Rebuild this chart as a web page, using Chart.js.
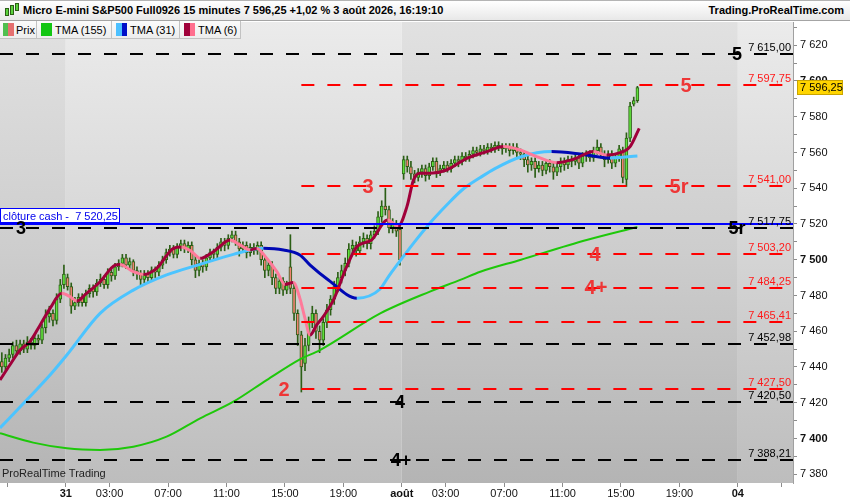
<!DOCTYPE html>
<html>
<head>
<meta charset="utf-8">
<script src="https://cdn.jsdelivr.net/npm/chart.js@4.4.1/dist/chart.umd.min.js"></script>
<style>
body { margin: 0; background: #fff; font-family: "Liberation Sans", Arial, sans-serif; }
#cadre { position: relative; width: 850px; height: 500px; overflow: hidden; }
#graphique { position: absolute; left: 0; top: 0; }
#titre { position: absolute; left: 0; top: 0; width: 850px; height: 21px; box-sizing: border-box;
  border-top: 1px solid #b4b4b4; border-bottom: 1px solid #a4a4a4;
  background: linear-gradient(#ffffff, #e8e8e8); font-size: 11px; font-weight: bold; line-height: 19px; color: #000; }
#titre .gauche { position: absolute; left: 23px; top: 0; }
#titre .droite { position: absolute; right: 6px; top: 0; }
.icone { position: absolute; width: 2px; border: 1px solid #2c5f16; background: #5ad23c; }
#legende { position: absolute; left: 0; top: 21px; height: 19px; }
.onglet { float: left; height: 18px; box-sizing: border-box; border-right: 1px solid #c2c2c2; border-bottom: 1px solid #c2c2c2;
  background: linear-gradient(#fbfbfb, #ededed); font-size: 11px; line-height: 18px; position: relative; }
.carre { position: absolute; top: 2px; width: 11px; height: 13px; }
</style>
</head>
<body>
<div id="cadre">
  <canvas id="graphique" width="850" height="500"></canvas>
  <div id="titre">
    <div class="icone" style="left:5px;top:7px;height:6px"></div>
    <div class="icone" style="left:10px;top:4px;height:8px"></div>
    <div class="icone" style="left:15px;top:2px;height:6px"></div>
    <span class="gauche">Micro E-mini S&amp;P500 Full0926 15 minutes 7 596,25 +1,02 % 3 août 2026, 16:19:10</span>
    <span class="droite">Trading.ProRealTime.com</span>
  </div>
  <div id="legende">
    <div class="onglet" style="width:37px"><div class="carre" style="left:3px;background:linear-gradient(90deg,#4fbf4f 50%,#e57070 50%)"></div><span style="position:absolute;left:16px">Prix</span></div>
    <div class="onglet" style="width:75px"><div class="carre" style="left:4px;background:#13c613"></div><span style="position:absolute;left:18px">TMA (155)</span></div>
    <div class="onglet" style="width:68px"><div class="carre" style="left:4px;background:linear-gradient(90deg,#4cc0ff 50%,#0010c8 50%)"></div><span style="position:absolute;left:18px">TMA (31)</span></div>
    <div class="onglet" style="width:61px"><div class="carre" style="left:4px;background:linear-gradient(90deg,#a0003a 50%,#ff6f8f 50%)"></div><span style="position:absolute;left:18px">TMA (6)</span></div>
  </div>
</div>
<script>
'use strict';

/* global Chart */

// Bougies 15 minutes (index de barre 0..174)
const ouvertures = [7443,7440,7445,7447,7452,7449,7453,7450,7454,7452,7456,7455,7462,7468,7470,7466,7478,7486,7490,7485,
  7474,7476,7479,7476,7481,7484,7482,7487,7489,7486,7493,7491,7496,7498,7501,7497,7499,7494,7492,7489,
  7492,7490,7494,7493,7497,7500,7504,7506,7503,7507,7509,7506,7508,7500,7494,7498,7496,7501,7504,7503,
  7507,7510,7508,7512,7514,7510,7506,7508,7504,7507,7505,7508,7500,7494,7497,7490,7484,7488,7483,7496,
  7484,7470,7458,7442,7452,7465,7470,7460,7455,7465,7472,7478,7485,7490,7494,7498,7506,7508,7505,7510,
  7512,7509,7514,7516,7524,7530,7528,7518,7520,7517,7548,7556,7552,7548,7546,7549,7551,7547,7552,7555,
  7549,7551,7553,7551,7554,7556,7555,7558,7557,7559,7561,7560,7562,7561,7563,7562,7564,7563,7562,7563,
  7561,7563,7560,7559,7556,7553,7555,7551,7553,7550,7554,7552,7549,7552,7555,7553,7556,7555,7557,7554,
  7558,7559,7557,7561,7563,7559,7556,7559,7554,7557,7561,7545,7568,7587,7589];
const hauts = [7448,7447,7450,7454,7455,7455,7455,7457,7456,7458,7458,7464,7472,7474,7472,7481,7489,7497,7492,7487,
  7479,7481,7481,7483,7486,7486,7489,7492,7491,7495,7495,7498,7500,7503,7503,7501,7500,7496,7494,7494,
  7494,7496,7496,7499,7502,7506,7508,7508,7509,7511,7511,7510,7510,7502,7500,7500,7503,7506,7506,7509,
  7512,7512,7514,7516,7516,7512,7510,7510,7509,7509,7510,7510,7502,7499,7499,7492,7490,7490,7488,7514,
  7487,7472,7460,7456,7468,7474,7472,7463,7467,7475,7480,7488,7493,7497,7501,7509,7511,7510,7513,7515,
  7514,7516,7519,7527,7533,7540,7530,7523,7522,7519,7558,7558,7555,7550,7551,7553,7553,7554,7557,7557,
  7553,7555,7555,7556,7558,7558,7560,7560,7561,7563,7563,7564,7564,7565,7565,7566,7566,7565,7565,7565,
  7565,7565,7562,7561,7558,7557,7557,7555,7555,7556,7556,7554,7554,7557,7557,7558,7558,7559,7559,7560,
  7561,7561,7563,7567,7565,7561,7561,7561,7559,7564,7563,7571,7588,7591,7597];
const bas = [7437,7438,7443,7445,7447,7447,7448,7448,7450,7450,7453,7453,7459,7465,7463,7464,7476,7484,7483,7470,
  7472,7474,7474,7474,7479,7479,7480,7485,7484,7484,7488,7489,7494,7496,7495,7495,7491,7489,7486,7487,
  7487,7488,7490,7491,7495,7498,7502,7501,7501,7505,7504,7504,7497,7490,7491,7493,7494,7499,7500,7501,
  7505,7505,7506,7510,7508,7502,7504,7501,7502,7503,7503,7497,7490,7491,7486,7481,7481,7480,7481,7481,
  7466,7452,7426,7438,7449,7462,7456,7448,7452,7462,7469,7475,7482,7487,7491,7496,7503,7502,7503,7507,
  7506,7506,7512,7514,7521,7525,7515,7515,7513,7497,7545,7549,7545,7543,7544,7546,7544,7545,7550,7546,
  7547,7549,7549,7549,7552,7552,7553,7555,7555,7557,7558,7558,7559,7559,7560,7560,7561,7559,7560,7558,
  7559,7557,7556,7552,7549,7550,7546,7549,7547,7548,7549,7545,7547,7549,7550,7551,7552,7553,7551,7552,
  7555,7555,7555,7559,7557,7552,7554,7551,7552,7555,7543,7541,7566,7586,7588];
const clotures = [7440,7445,7447,7452,7449,7453,7450,7454,7452,7456,7455,7462,7468,7470,7466,7478,7486,7492,7485,7474,
  7476,7479,7476,7481,7484,7482,7487,7489,7486,7493,7491,7496,7498,7501,7497,7499,7494,7492,7489,7492,
  7490,7494,7493,7497,7500,7504,7506,7503,7507,7509,7506,7508,7500,7494,7498,7496,7501,7504,7503,7507,
  7510,7508,7512,7514,7510,7506,7508,7504,7507,7505,7508,7500,7494,7497,7490,7484,7488,7483,7486,7484,
  7470,7458,7440,7452,7465,7470,7460,7455,7465,7472,7478,7485,7490,7494,7498,7506,7508,7505,7510,7512,
  7509,7514,7516,7524,7530,7528,7518,7520,7516,7500,7556,7552,7548,7546,7549,7551,7547,7552,7555,7549,
  7551,7553,7551,7554,7556,7555,7558,7557,7559,7561,7560,7562,7561,7563,7562,7564,7563,7562,7563,7561,
  7563,7560,7559,7556,7553,7555,7551,7553,7550,7554,7552,7549,7552,7555,7553,7556,7555,7557,7554,7558,
  7559,7557,7561,7563,7559,7556,7559,7554,7557,7562,7546,7568,7586,7589,7596.25];

// Moyennes mobiles triangulaires
const tma155Barres = [-0.5, 8.6, 17.8, 26.9, 36, 45.1, 54.3, 63.4, 72.5, 81.6, 87.1, 103.6, 117.2, 125.5, 131, 141.9, 160.1, 174];
const tma155Valeurs = [7402.9, 7397.7, 7394.5, 7393.6, 7395.4, 7401, 7411.3, 7420.6, 7432.7, 7444.3, 7449.5, 7470, 7482.2, 7488.7, 7493.3, 7499.9, 7511, 7518.3];
const tma31Barres = [-0.5, 6.8, 13.2, 17.8, 26.9, 36, 45.1, 54.3, 63.4, 71.6, 77.1, 81.6, 84.4, 89.4, 97.2, 103.5, 106, 110, 113, 117, 122, 126, 131, 135, 142, 150.5, 158.3, 166.5, 174];
const tma31Valeurs = [7405.9, 7421.5, 7435.5, 7446.7, 7470, 7483, 7491.5, 7497.4, 7503, 7506.4, 7505.5, 7502.7, 7497, 7488.7, 7478.5, 7483.5, 7491, 7502, 7510, 7520, 7531, 7539, 7546, 7551, 7557.5, 7560.5, 7559.2, 7556.9, 7558];
const tma6Barres = [-0.5, 2.2, 5, 7.7, 10.5, 13.2, 16.4, 18.7, 20.5, 23.2, 26.9, 31, 32.4, 36, 38.8, 42.4, 47, 49.2, 52, 54.3,
  57.9, 62.5, 65.2, 68, 69.8, 72.5, 75.3, 77.5, 79.8, 81.6, 83, 84.4, 86.2, 88, 90.8, 94.4, 97.2, 101.2, 105.6, 108.5,
  110.9, 112.7, 114.5, 117.2, 121.8, 127.3, 132.8, 137.3, 141.9, 146.4, 151.9, 156.5, 162, 165.6, 169.3, 172, 174.5];
const tma6Valeurs = [7432.7, 7441.1, 7449.5, 7454.2, 7463.5, 7472.8, 7481.2, 7479.3, 7476.9, 7481.2, 7487.7, 7497, 7497.4, 7493.3, 7491.8, 7495.2, 7506.4, 7507.1, 7504.5, 7500.8,
  7504.5, 7511, 7508.3, 7505.5, 7506.3, 7500.8, 7493.3, 7486.2, 7487.2, 7478.4, 7467.2, 7457.9, 7463.5, 7468.2, 7477.5, 7496.1, 7507.3, 7511, 7522.2, 7518.8,
  7529.7, 7544.6, 7548.4, 7548.4, 7550.2, 7556.7, 7560.5, 7563.3, 7561.4, 7557.7, 7554.3, 7556.2, 7560.5, 7558.6, 7559.9, 7563.3, 7573.5];

// Niveaux horizontaux
const niveauxNoirs = [7615.00, 7517.75, 7452.98, 7420.50, 7388.21];
const niveauxRouges = [7597.75, 7541.00, 7503.20, 7484.25, 7465.41, 7427.50];
const debutNiveauxRouges = 82;
const clotureCash = 7520.25;
const dernierPrix = 7596.25;
const reperesTextes = ['5', '3', '5r', '4', '4+', '5', '3', '5r', '4', '4+', '2'];
const reperesNiveaux = [7615.00, 7517.75, 7517.75, 7420.50, 7388.21, 7597.75, 7541.00, 7541.00, 7503.20, 7484.25, 7427.50];

// Axes
const xTickBarres = [1.5, 17.5, 29.5, 45.5, 61.5, 77.5, 93.5, 109.5, 121.5, 137.5, 153.5, 169.5, 185.5, 201.5, 213.5];
const xTickLabels = ['', '31', '03:00', '07:00', '11:00', '15:00', '19:00', 'août', '03:00', '07:00', '11:00', '15:00', '19:00', '04', ''];
const yGraduations = [7380, 7390, 7400, 7410, 7420, 7430, 7440, 7450, 7460, 7470, 7480, 7490, 7500, 7510, 7520, 7530,
  7540, 7550, 7560, 7570, 7580, 7590, 7600, 7610, 7620, 7630];

const POLICE = '"Liberation Sans", Arial, sans-serif';

function formatFr(v, dec) {
    const morceaux = v.toFixed(dec).split('.');
    const ent = morceaux[0].replace(/\B(?=(\d{3})+(?!\d))/g, ' ');
    return morceaux.length > 1 ? ent + ',' + morceaux[1] : ent;
}

function points(barres, valeurs) {
    return barres.map((b, i) => ({ x: b, y: valeurs[i] }));
}

const corps = clotures.map((c, i) => ({ x: i, y: [ouvertures[i], c] }));
const meches = clotures.map((c, i) => ({ x: i, y: [bas[i], hauts[i]] }));

// Fond en bandes (une par séance) avec dégradé vertical
const pluginFond = {
    id: 'fond',
    beforeDraw(chart) {
        const c = chart.ctx, a = chart.chartArea, sx = chart.scales.x;
        const bornes = [a.left];
        xTickBarres.forEach((b, i) => {
            if (xTickLabels[i] !== '' && xTickLabels[i].indexOf(':') < 0) {
                bornes.push(sx.getPixelForValue(b));
            }
        });
        bornes.push(a.right);
        for (let i = 0; i < bornes.length - 1; i++) {
            const g = c.createLinearGradient(0, a.top, 0, a.bottom);
            if (i % 2 === 0) {
                g.addColorStop(0, '#e1e1e1');
                g.addColorStop(0.5, '#cdcdcd');
                g.addColorStop(1, '#b4b4b4');
            } else {
                g.addColorStop(0, '#ebebeb');
                g.addColorStop(0.5, '#d5d5d5');
                g.addColorStop(1, '#bdbdbd');
            }
            c.fillStyle = g;
            c.fillRect(bornes[i], a.top, bornes[i + 1] - bornes[i], a.bottom - a.top);
        }
    }
};

// Niveaux, étiquettes et prix courant
const pluginNiveaux = {
    id: 'niveaux',
    afterDraw(chart) {
        const c = chart.ctx, a = chart.chartArea, sx = chart.scales.x, sy = chart.scales.y;
        const reperesX = [737, 21, 737, 400, 401, 686, 368, 679, 595, 596, 284];
        c.save();
        c.beginPath();
        c.rect(a.left, a.top, a.right - a.left, a.bottom - a.top);
        c.clip();

        c.lineWidth = 2;
        c.setLineDash([13, 13]);
        c.strokeStyle = '#000';
        niveauxNoirs.forEach(v => {
            const y = Math.round(sy.getPixelForValue(v));
            c.beginPath(); c.moveTo(a.left, y); c.lineTo(a.right, y); c.stroke();
        });
        c.strokeStyle = '#ff0000';
        const xr = sx.getPixelForValue(debutNiveauxRouges);
        niveauxRouges.forEach(v => {
            const y = Math.round(sy.getPixelForValue(v));
            c.beginPath(); c.moveTo(xr, y); c.lineTo(a.right, y); c.stroke();
        });
        c.setLineDash([]);

        // clôture cash
        const yc = Math.round(sy.getPixelForValue(clotureCash));
        c.strokeStyle = '#0000ff';
        c.beginPath(); c.moveTo(a.left, yc); c.lineTo(a.right, yc); c.stroke();
        c.fillStyle = '#fff';
        c.fillRect(0, yc - 16, 120, 15);
        c.lineWidth = 1;
        c.strokeRect(0.5, yc - 15.5, 119, 14);
        c.fillStyle = '#0000ee';
        c.font = '11px ' + POLICE;
        c.textAlign = 'left';
        c.textBaseline = 'alphabetic';
        c.fillText('clôture cash -  ' + formatFr(clotureCash, 2), 3, yc - 4);

        // prix des niveaux
        c.textAlign = 'right';
        niveauxNoirs.concat(niveauxRouges).forEach((v, i) => {
            const y = sy.getPixelForValue(v);
            c.fillStyle = i < niveauxNoirs.length ? '#000' : '#ff1a1a';
            c.fillText(formatFr(v, 2), 791, y - 3);
        });

        // repères numérotés
        c.textAlign = 'center';
        c.textBaseline = 'middle';
        reperesTextes.forEach((t, i) => {
            const y = sy.getPixelForValue(reperesNiveaux[i]);
            if (i < 5) {
                c.fillStyle = '#000';
                c.font = 'bold 18px ' + POLICE;
            } else {
                c.fillStyle = '#ee3636';
                c.font = 'bold 20px ' + POLICE;
            }
            c.fillText(t, reperesX[i], y + 1);
        });

        c.fillStyle = '#222';
        c.font = '11px ' + POLICE;
        c.textAlign = 'left';
        c.textBaseline = 'alphabetic';
        c.fillText('ProRealTime Trading', 2, a.bottom - 6);
        c.restore();

        // étiquette du dernier prix
        const yp = Math.round(sy.getPixelForValue(dernierPrix));
        c.save();
        c.fillStyle = '#ffd500';
        c.fillRect(797, yp - 8, 46, 15);
        c.strokeStyle = '#c9a400';
        c.lineWidth = 1;
        c.strokeRect(797.5, yp - 7.5, 45, 14);
        c.fillStyle = '#000';
        c.font = '11px ' + POLICE;
        c.textAlign = 'left';
        c.textBaseline = 'middle';
        c.fillText(formatFr(dernierPrix, 2), 800, yp);
        c.restore();
    }
};

document.addEventListener('DOMContentLoaded', function () {
    const ctx = document.getElementById('graphique').getContext('2d');

    const couleurHausseBaisse = (monte, baisse) => (s => s.p1.parsed.y < s.p0.parsed.y ? baisse : monte);

    // eslint-disable-next-line no-unused-vars
    let graphique = new Chart(ctx, {
        type: 'bar',
        data: {
            datasets: [
                {
                    type: 'line', label: 'TMA (6)', data: points(tma6Barres, tma6Valeurs),
                    borderWidth: 3, pointRadius: 0, cubicInterpolationMode: 'monotone',
                    segment: { borderColor: couleurHausseBaisse('#a0003a', '#ff7a9a') }, order: 1
                },
                {
                    type: 'line', label: 'TMA (31)', data: points(tma31Barres, tma31Valeurs),
                    borderWidth: 3, pointRadius: 0, cubicInterpolationMode: 'monotone',
                    segment: { borderColor: couleurHausseBaisse('#4cc4ff', '#0008b4') }, order: 2
                },
                {
                    type: 'line', label: 'TMA (155)', data: points(tma155Barres, tma155Valeurs),
                    borderColor: '#1ec80a', borderWidth: 2, pointRadius: 0, cubicInterpolationMode: 'monotone', order: 3
                },
                {
                    label: 'corps', data: corps,
                    backgroundColor: c => (c.raw && c.raw.y[1] >= c.raw.y[0]) ? '#5fe03c' : '#f08272',
                    borderColor: '#2c5f16', borderWidth: 1, borderSkipped: false,
                    barThickness: 3, grouped: false, order: 5
                },
                {
                    label: 'meches', data: meches, backgroundColor: '#2c5f16',
                    barThickness: 1, grouped: false, order: 6
                }
            ]
        },
        options: {
            responsive: false,
            animation: false,
            events: [],
            layout: { padding: { top: 22, left: 0, right: 0, bottom: 0 } },
            plugins: { legend: { display: false }, tooltip: { enabled: false } },
            scales: {
                x: {
                    type: 'linear', min: -0.5, max: 216.6, offset: false,
                    afterFit: s => { s.height = 17; },
                    afterBuildTicks: s => { s.ticks = xTickBarres.map(v => ({ value: v })); },
                    grid: { drawOnChartArea: false, offset: false, tickLength: 4, color: '#8c8c8c' },
                    border: { display: false },
                    ticks: {
                        autoSkip: false, maxRotation: 0, minRotation: 0, padding: 0, color: '#111',
                        callback: (v, i) => xTickLabels[i],
                        font: c => ({ family: POLICE, size: 11, weight: (xTickLabels[c.index] || ':').indexOf(':') < 0 ? 'bold' : 'normal' })
                    }
                },
                y: {
                    type: 'linear', position: 'right', min: 7375.1, max: 7633, beginAtZero: false,
                    afterFit: s => { s.width = 57; },
                    afterBuildTicks: s => { s.ticks = yGraduations.map(v => ({ value: v })); },
                    grid: { drawOnChartArea: false, tickLength: 4, color: '#8c8c8c' },
                    border: { color: '#a0a0a0' },
                    ticks: {
                        padding: 3, color: '#111',
                        callback: v => (v % 20 === 0 ? formatFr(v, 0) : ''),
                        font: c => ({ family: POLICE, size: 11, weight: (c.tick && c.tick.value % 100 === 0) ? 'bold' : 'normal' })
                    }
                }
            }
        },
        plugins: [pluginFond, pluginNiveaux]
    });
});
</script>
</body>
</html>
